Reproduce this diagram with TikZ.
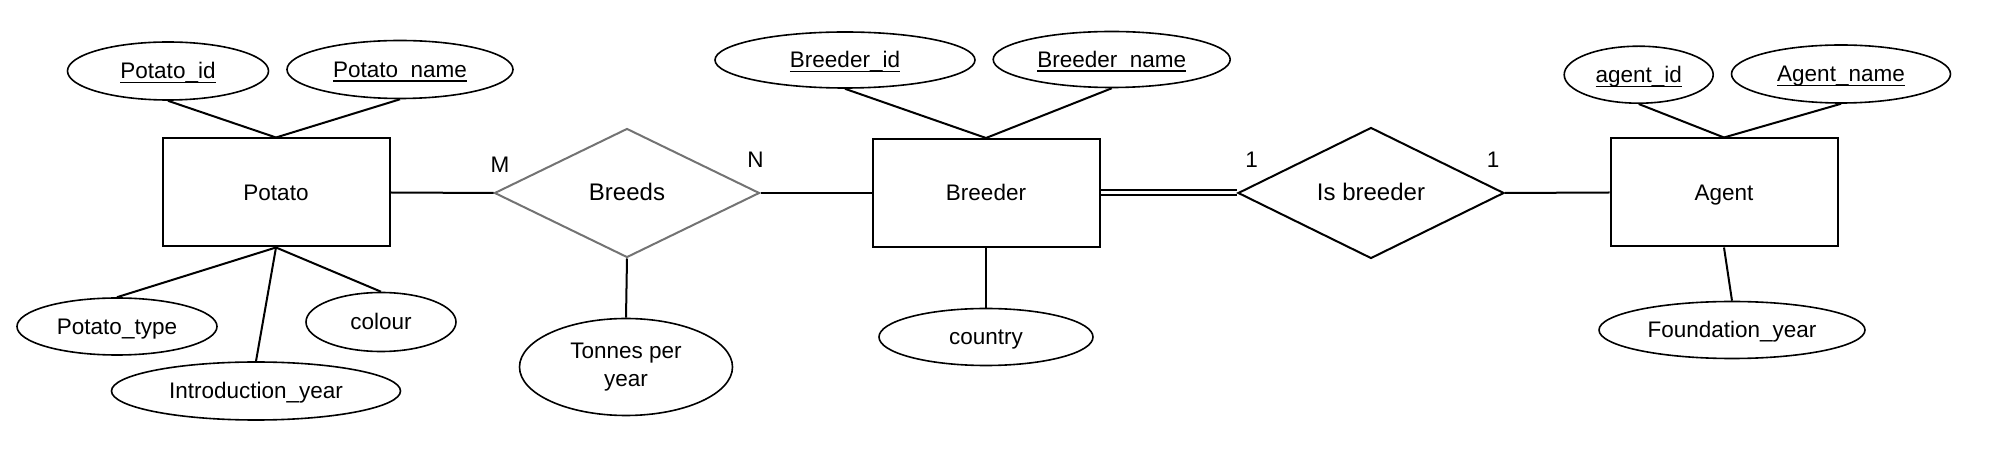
\documentclass[tikz,border=0pt]{standalone}
\usepackage{fontspec}
\setmainfont{Liberation Sans}
\usetikzlibrary{shapes.geometric}
\newsavebox\keybox
\newcommand\keyattr[1]{\sbox\keybox{#1}\rlap{\rule[-0.2em]{\wd\keybox}{0.073em}}\usebox\keybox}
\begin{document}
\begin{tikzpicture}[x=0.5pt,y=-0.5pt,
  every node/.style={font=\fontsize{11.25}{14}\selectfont, inner sep=0pt, text height=0.86em, text depth=0.06em},
  entity/.style={draw, line width=1pt, minimum width=113.5pt, minimum height=54pt},
  attr/.style 2 args={draw, ellipse, line width=0.8pt, minimum width=#1, minimum height=#2},
  rel/.style 2 args={draw, diamond, line width=1pt, minimum width=#1, minimum height=#2, font=\fontsize{12}{14}\selectfont},
  link/.style={line width=1pt},
  card/.style={font=\fontsize{11.25}{14}\selectfont}
]
\useasboundingbox (0,0) rectangle (2014,464);

% entities
\node[entity] (potato) at (276,192.5) {Potato};
\node[entity] (breeder) at (986,193) {Breeder};
\node[entity] (agent) at (1724,192.5) {Agent};

% relationships
\node[rel={132.5pt}{64.5pt}, draw=black!55] (breeds) at (627,193) {Breeds};
\node[rel={133pt}{65.5pt}] (isb) at (1371,193) {Is breeder};

% attributes of Potato
\node[attr={100.5pt}{29pt}] (pid) at (168,71) {\keyattr{Potato\_id}};
\node[attr={113pt}{29pt}] (pname) at (400,69.5) {\keyattr{Potato\_name}};
\node[attr={100pt}{28.5pt}] (ptype) at (117,326.5) {Potato\_type};
\node[attr={75pt}{29.5pt}] (colour) at (381,322) {colour};
\node[attr={144.5pt}{29pt}] (intro) at (256,391) {Introduction\_year};

% attribute of Breeds
\node[attr={106.5pt}{48.5pt}, align=center, text height={}, text depth={}] (tonnes) at (626,367) {Tonnes per\\year};

% attributes of Breeder
\node[attr={130pt}{28pt}] (bid) at (845,60) {\keyattr{Breeder\_id}};
\node[attr={118.5pt}{28pt}] (bname) at (1111.7,59.5) {\keyattr{Breeder\_name}};
\node[attr={107pt}{28.5pt}] (country) at (986,337) {country};

% attributes of Agent
\node[attr={74.5pt}{28.5pt}] (aid) at (1638.7,74.7) {\keyattr{agent\_id}};
\node[attr={109.5pt}{29pt}] (aname) at (1841,74) {\keyattr{Agent\_name}};
\node[attr={133pt}{28.5pt}] (found) at (1732,330) {Foundation\_year};

% cardinalities
\node[card] (cm) at (500,165) {M};
\node[card] (cn) at (755.5,160) {N};
\node[card] (c1a) at (1251.7,160) {1};
\node[card] (c1b) at (1493,160) {1};

% connectors
\draw[link] (pid.south) -- (potato.north);
\draw[link] (pname.south) -- (potato.north);
\draw[link] (potato.south) -- (ptype.north);
\draw[link] (potato.south) -- (intro.north);
\draw[link] (potato.south) -- (colour.north);
\draw[link] (potato.east) -- (breeds.west);
\draw[link] (breeds.east) -- (breeder.west);
\draw[link] (breeds.south) -- (tonnes.north);
\draw[link] (bid.south) -- (breeder.north);
\draw[link] (bname.south) -- (breeder.north);
\draw[link] (breeder.south) -- (country.north);
\draw[link] ([yshift=1.25pt]breeder.east) -- ([yshift=1.25pt]isb.west);
\draw[link] ([yshift=-1.25pt]breeder.east) -- ([yshift=-1.25pt]isb.west);
\draw[link] (isb.east) -- (agent.west);
\draw[link] (aid.south) -- (agent.north);
\draw[link] (aname.south) -- (agent.north);
\draw[link] (agent.south) -- (found.north);
\end{tikzpicture}
\end{document}
